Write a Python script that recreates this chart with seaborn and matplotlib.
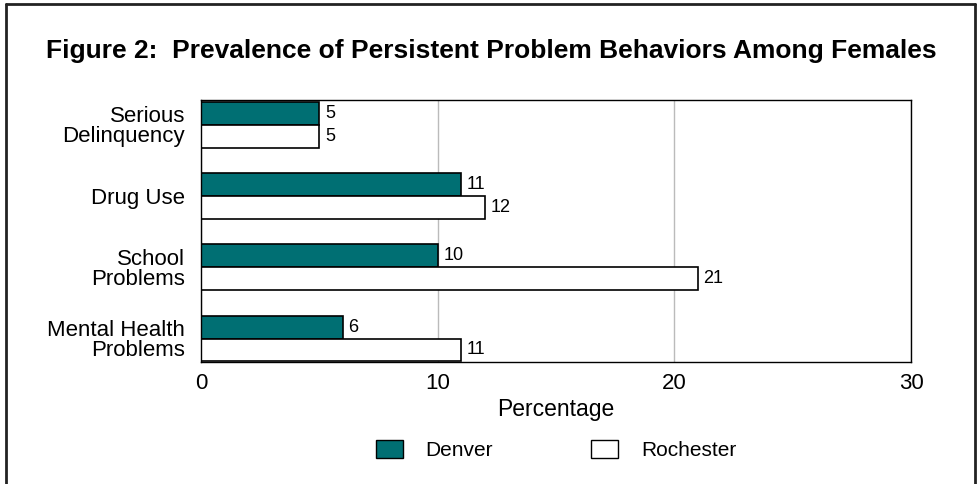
import matplotlib
matplotlib.use("Agg")
import matplotlib.pyplot as plt
import seaborn as sns
import pandas as pd
from matplotlib.patches import Patch
from matplotlib.lines import Line2D

categories = ["Serious\nDelinquency", "Drug Use", "School\nProblems", "Mental Health\nProblems"]
denver = [5, 11, 10, 6]
rochester = [5, 12, 21, 11]
series = ["Denver", "Rochester"]
colors = {"Denver": "#006F73", "Rochester": "#FFFFFF"}
x_ticks = [0, 10, 20, 30]

df = pd.DataFrame({
    "Category": categories * 2,
    "Value": denver + rochester,
    "City": ["Denver"] * len(categories) + ["Rochester"] * len(categories),
})

sns.set_style("white")
plt.rcParams["font.family"] = ["Liberation Sans", "DejaVu Sans"]
for k in ["text.color", "axes.labelcolor", "xtick.color", "ytick.color"]:
    plt.rcParams[k] = "black"

fig = plt.figure(figsize=(9.8, 4.84), dpi=100)
W, H = 980, 484
ax = fig.add_axes([201 / W, 1 - 362 / H, (911 - 201) / W, (362 - 100) / H])

sns.barplot(data=df, y="Category", x="Value", hue="City", order=categories,
            hue_order=series, palette=colors, orient="h", width=0.645,
            saturation=1, edgecolor="black", linewidth=1.2, ax=ax, legend=False)

ax.set_xlim(0, 30)
ax.set_ylim(3.33, -0.35)
ax.set_xticks(x_ticks)
ax.set_xticklabels([str(t) for t in x_ticks], fontsize=16)
ax.tick_params(axis="y", labelsize=16, length=0, pad=11.5)
ax.tick_params(axis="x", length=0, pad=8)
for lab in ax.get_yticklabels():
    lab.set_horizontalalignment("right")
    lab.set_multialignment("right")
    lab.set_linespacing(0.92)
ax.set_ylabel("")
ax.set_xlabel("Percentage", fontsize=16.5, labelpad=3)
ax.xaxis.grid(True, color="#BBBBBB", linewidth=1)
ax.set_axisbelow(True)
for s in ax.spines.values():
    s.set_visible(True)
    s.set_color("black")
    s.set_linewidth(1)

for cont in ax.containers:
    ax.bar_label(cont, labels=[f"{v:g}" for v in cont.datavalues], padding=4, fontsize=13)

fig.text(491 / W, 1 - 51 / H, "Figure 2:  Prevalence of Persistent Problem Behaviors Among Females",
         ha="center", va="center", fontsize=19, fontweight="bold")

handles = [Patch(facecolor=colors[s], edgecolor="black", linewidth=1) for s in series]
fig.legend(handles, series, loc="center", bbox_to_anchor=(556 / W, 1 - 450 / H), ncol=2,
           frameon=False, fontsize=15, handlelength=1.3, handleheight=1.0,
           handletextpad=1.1, columnspacing=4.7)

fig.add_artist(Line2D([6 / W, 6 / W], [0, 1 - 4 / H], transform=fig.transFigure, color="#222222", lw=2))
fig.add_artist(Line2D([6 / W, 975 / W], [1 - 4 / H, 1 - 4 / H], transform=fig.transFigure, color="#222222", lw=2))
fig.add_artist(Line2D([975 / W, 975 / W], [0, 1 - 4 / H], transform=fig.transFigure, color="#222222", lw=2))

fig.savefig("out.png", dpi=100)
